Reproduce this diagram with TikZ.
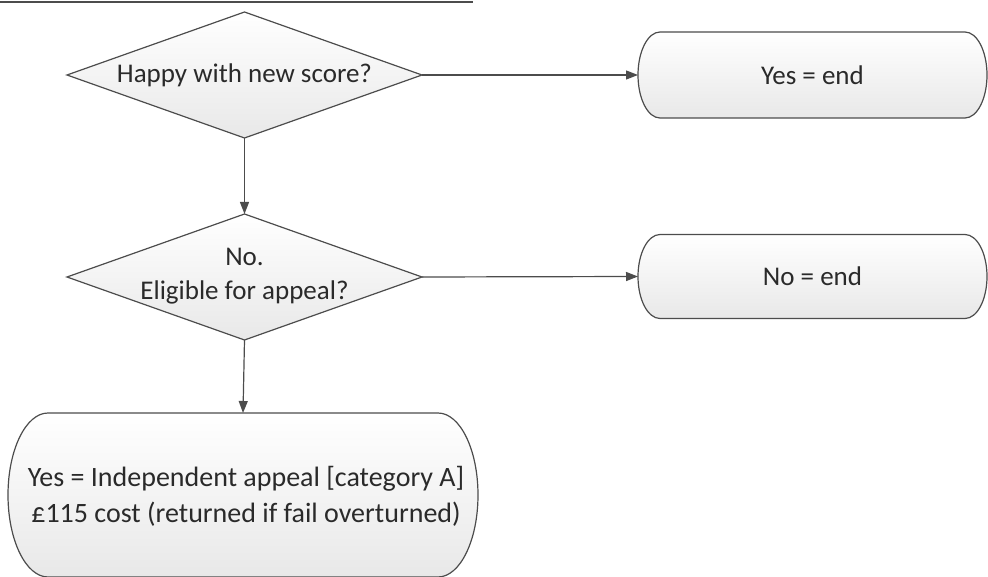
\documentclass[tikz,border=0pt]{standalone}
\usepackage{fontspec}
\setmainfont{Carlito}
\usetikzlibrary{shapes.geometric,arrows.meta}
\definecolor{ln}{HTML}{4C4C4C}
\definecolor{tx}{HTML}{2A2A2A}
\tikzset{
  txt/.style={font=\fontsize{27}{34}\selectfont, text=tx, align=center},
  bigtxt/.style={font=\fontsize{28}{36}\selectfont, text=tx, align=center},
  dec/.style={diamond, draw=ln, line width=1.2pt, top color=white, bottom color=black!9,
    minimum width=355pt, minimum height=126pt, inner sep=0pt, outer sep=0pt},
  termbox/.style={rectangle, draw=none, inner sep=0pt, outer sep=0pt},
  termshape/.style={draw=ln, line width=1.2pt, top color=white, bottom color=black!9},
  conn/.style={draw=ln, line width=1.2pt, -{Triangle[length=12pt,width=9pt]}},
}
\begin{document}
\begin{tikzpicture}[x=1pt,y=-1pt]
\useasboundingbox (0,0) rectangle (988,577);
\clip (0,0) rectangle (988,577);
\draw[ln, line width=2pt] (0,2) -- (473,2);
% terminal shapes
\node[termbox, minimum width=349pt, minimum height=86pt] (t1) at (812.5,75) {};
\node[termbox, minimum width=349pt, minimum height=84pt] (t2) at (812.5,276.5) {};
\node[termbox, minimum width=470pt, minimum height=164pt] (t3) at (243,495) {};
\path[termshape] ([xshift=22pt]t1.north west) -- ([xshift=-22pt]t1.north east)
  arc[start angle=90,end angle=-90,x radius=22pt,y radius=43pt]
  -- ([xshift=22pt]t1.south west)
  arc[start angle=270,end angle=90,x radius=22pt,y radius=43pt] -- cycle;
\path[termshape] ([xshift=22pt]t2.north west) -- ([xshift=-22pt]t2.north east)
  arc[start angle=90,end angle=-90,x radius=22pt,y radius=42pt]
  -- ([xshift=22pt]t2.south west)
  arc[start angle=270,end angle=90,x radius=22pt,y radius=42pt] -- cycle;
\path[termshape] ([xshift=40pt]t3.north west) -- ([xshift=-40pt]t3.north east)
  arc[start angle=90,end angle=-90,x radius=40pt,y radius=82pt]
  -- ([xshift=40pt]t3.south west)
  arc[start angle=270,end angle=90,x radius=40pt,y radius=82pt] -- cycle;
\node[txt] (t1txt) at (t1) {Yes = end};
\node[txt] (t2txt) at (t2) {No = end};
\node[bigtxt] (t3txt) at (246,496) {Yes = Independent appeal [category A]\\£115 cost (returned if fail overturned)};
% decisions
\node[dec] (d1) at (244.5,75) {};
\node[dec] (d2) at (244.5,277) {};
\node[txt] (d1txt) at (d1) {Happy with new score?};
\node[txt] (d2txt) at (244.5,276) {No.\\Eligible for appeal?};
% connectors
\draw[conn] (d1.east) -- (t1.west);
\draw[conn] (d2.east) -- (t2.west);
\draw[conn] (d1.south) -- (d2.north);
\draw[conn] (d2.south) -- (t3.north);
\end{tikzpicture}
\end{document}
